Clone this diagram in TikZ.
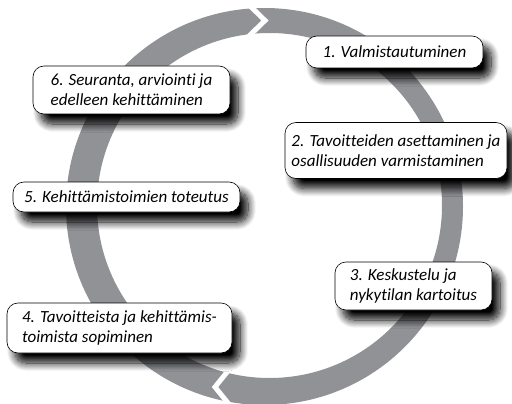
\documentclass[tikz,border=0pt]{standalone}
\usepackage{fontspec}
\setmainfont[Ligatures={NoCommon}]{Carlito}
\usetikzlibrary{shadows.blur}
\definecolor{ringgray}{RGB}{145,146,150}
\tikzset{
  stepbox/.style={draw=black, line width=0.6pt, fill=white, rounded corners=11pt,
    inner sep=0pt, align=left, font=\itshape\fontsize{17}{20}\selectfont,
    blur shadow={shadow xshift=8pt, shadow yshift=-10pt, shadow blur steps=14,
      shadow blur radius=8pt, shadow opacity=100, shadow blur extra rounding=4pt}},
  gap/.style={white, line width=5pt, line join=miter}
}
\begin{document}
\begin{tikzpicture}[x=1pt,y=-1pt]
\useasboundingbox (0,0) rectangle (512,404);
% ring
\fill[ringgray, even odd rule] (264.5,206.5) circle (198.5pt) (269.5,205.5) circle (172.5pt);
% chevron gaps
\coordinate (t1) at (246,2);
\coordinate (t2) at (265,20.5);
\coordinate (t3) at (246,39);
\draw[gap] (t1) -- (t2) -- (t3);
\coordinate (b1) at (232,366);
\coordinate (b2) at (215,387);
\coordinate (b3) at (232,408);
\draw[gap] (b1) -- (b2) -- (b3);
% boxes
\node[stepbox, minimum width=177pt, minimum height=32pt] (s1) at (394.5,52) {1. Valmistautuminen};
\node[stepbox, minimum width=222pt, minimum height=56pt] (s2) at (396,150.5) {2. Tavoitteiden asettaminen ja\\osallisuuden varmistaminen};
\node[stepbox, minimum width=157pt, minimum height=48pt] (s3) at (413.5,286) {3. Keskustelu ja\\nykytilan kartoitus};
\node[stepbox, minimum width=225pt, minimum height=50pt] (s4) at (119.5,328) {4. Tavoitteista ja kehittämis-\\toimista sopiminen};
\node[stepbox, minimum width=227pt, minimum height=30pt] (s5) at (126.5,197) {5. Kehittämistoimien toteutus};
\node[stepbox, minimum width=197pt, minimum height=48pt] (s6) at (131.5,90) {6. Seuranta, arviointi ja\\edelleen kehittäminen};
\end{tikzpicture}
\end{document}
